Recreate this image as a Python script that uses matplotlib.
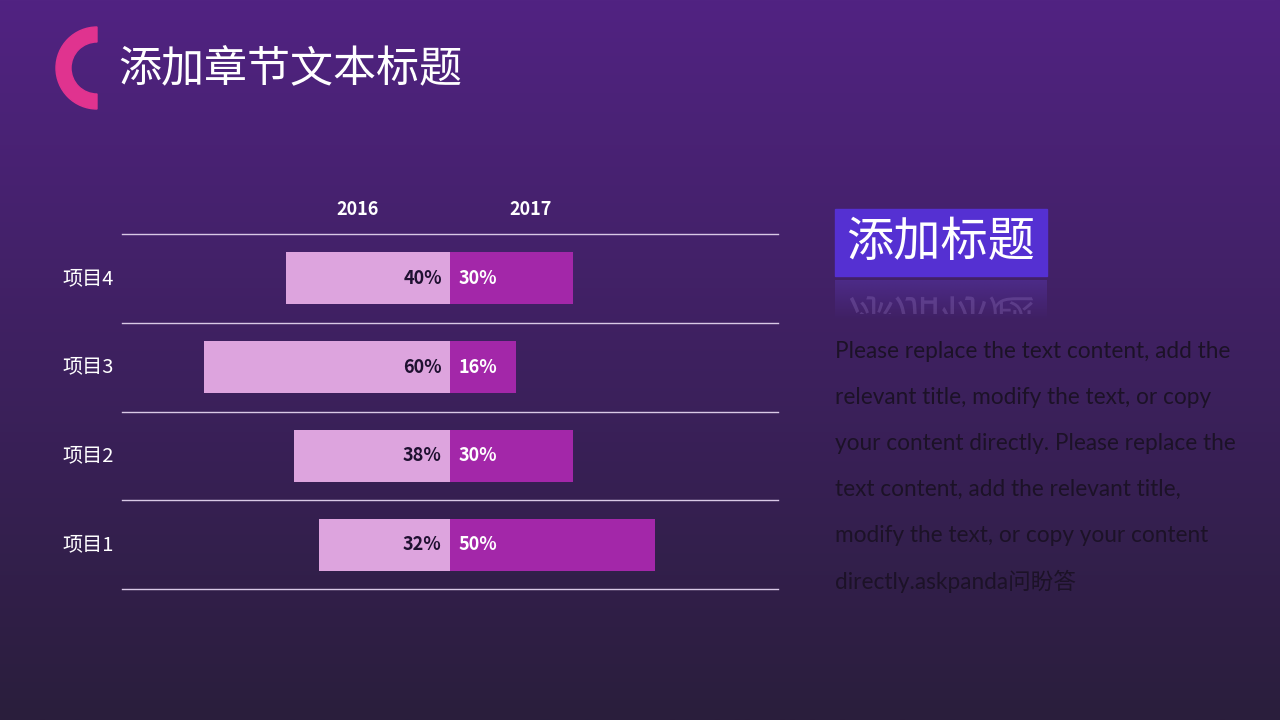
import numpy as np
import matplotlib
matplotlib.use('Agg')
import matplotlib.pyplot as plt
from matplotlib.patches import Wedge, Rectangle, PathPatch
from matplotlib.textpath import TextPath
from matplotlib.font_manager import FontProperties
from matplotlib.transforms import Affine2D

plt.rcParams['font.family'] = ['Noto Sans CJK SC', 'DejaVu Sans']

# chart data
items = ['项目1', '项目2', '项目3', '项目4']
values_2016 = [32, 38, 60, 40]
values_2017 = [50, 30, 16, 30]
years = ['2016', '2017']

title = '添加章节文本标题'
box_title = '添加标题'
body_lines = [
    'Please replace the text content, add the',
    'relevant title, modify the text, or copy',
    'your content directly. Please replace the',
    'text content, add the relevant title,',
    'modify the text, or copy your content',
    'directly.askpanda问盼答',
]

fig = plt.figure(figsize=(12.8, 7.2), dpi=100)

# background layer in pixel coordinates
bg = fig.add_axes([0, 0, 1, 1])
bg.set_xlim(0, 1280)
bg.set_ylim(720, 0)
bg.axis('off')
top = np.array([0x51, 0x23, 0x82]) / 255
bottom = np.array([0x2A, 0x1E, 0x3C]) / 255
t = np.linspace(0, 1, 256)[:, None]
grad = top * (1 - t) + bottom * t
bg.imshow(grad[:, None, :], extent=[0, 1280, 720, 0], aspect='auto', zorder=0)

# magenta half ring
bg.add_patch(Wedge((97, 68), 41, 90, 270, width=15, color='#E0338F', zorder=1))
bg.text(118, 70, title, color='white', fontsize=31, va='center', ha='left', zorder=2)

# title box with reflection
bg.add_patch(Rectangle((835, 209), 212, 67, color='#5530D2', zorder=1))
bg.text(941, 243, box_title, color='white', fontsize=34, va='center', ha='center', zorder=2)
fade = np.zeros((64, 1, 4))
fade[:, 0, :3] = [0x5A / 255, 0x38 / 255, 0xB0 / 255]
fade[:, 0, 3] = np.linspace(0.45, 0.0, 64)
bg.imshow(fade, extent=[835, 1047, 320, 280], aspect='auto', zorder=1)
fp = FontProperties(family='Noto Sans CJK SC')
tp = TextPath((0, 0), box_title, size=47, prop=fp)
refl = PathPatch(tp, color='#8A6CB8', alpha=0.35, lw=0, zorder=2,
                 transform=Affine2D().translate(847, 300) + bg.transData)
bg.add_patch(refl)
clip = Rectangle((835, 284), 212, 30, transform=bg.transData, visible=False)
bg.add_patch(clip)
refl.set_clip_path(clip)

for i, line in enumerate(body_lines):
    bg.text(835, 351 + i * 46, line, color='#1C1227', fontsize=16.3,
            family=['Lato', 'Noto Sans CJK SC'],
            va='center', ha='left', zorder=2)

# bar chart
ax = fig.add_axes([122 / 1280, 131 / 720, 656 / 1280, 355 / 720])
ax.patch.set_alpha(0)
y = np.arange(len(items))
ax.barh(y, [-v for v in values_2016], height=0.585, color='#DDA4DE', zorder=2)
ax.barh(y, values_2017, height=0.585, color='#A327A9', zorder=2)
ax.set_xlim(-80, 80)
ax.set_ylim(-0.5, len(items) - 0.5)
for yl in np.arange(-0.5, len(items), 1):
    ax.axhline(yl, color='#D9C9E6', lw=1, zorder=1, clip_on=False)
for i in range(len(items)):
    ax.text(-2, y[i], f'{values_2016[i]}%', color='#1E1030', fontsize=13,
            fontweight='bold', ha='right', va='center', zorder=3)
    ax.text(2, y[i], f'{values_2017[i]}%', color='white', fontsize=13,
            fontweight='bold', ha='left', va='center', zorder=3)
    ax.text(-0.052, y[i], items[i], transform=ax.get_yaxis_transform(),
            color='white', fontsize=14.5, ha='center', va='center')
ax.text(-22.6, len(items) - 0.5 + 0.28, years[0], color='white', fontsize=13,
        fontweight='bold', ha='center', va='center')
ax.text(19.7, len(items) - 0.5 + 0.28, years[1], color='white', fontsize=13,
        fontweight='bold', ha='center', va='center')
ax.axis('off')

fig.savefig('out.png', dpi=100)
